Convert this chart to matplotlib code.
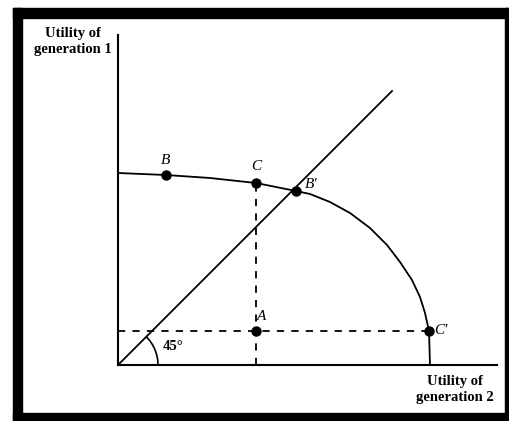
import matplotlib
matplotlib.use("Agg")
import matplotlib.pyplot as plt
from matplotlib.patches import Arc, Rectangle

# utility possibility frontier (gen 2 on x, gen 1 on y)
frontier_x = [0, 48, 92, 138, 178, 192, 212, 232, 252, 269, 282, 294, 302, 307, 311, 312]
frontier_y = [192, 190, 187, 182, 174, 171, 163, 152, 137, 120, 103, 85, 68, 52, 34, 0]

# labelled points
point_names = ["B", "C", "B′", "A", "C′"]
point_x = [48, 138, 178, 138, 311]
point_y = [190, 182, 174, 34, 34]

axis_x_end = 379
axis_y_end = 330
diag_end = 274

serif = "Liberation Serif"

fig = plt.figure(figsize=(5.10, 4.21), dpi=100)
ax = fig.add_axes([0, 0, 1, 1])
ax.set_xlim(-118, 392)
ax.set_ylim(-56, 365)
ax.axis("off")

# axes
ax.plot([0, 0], [0, axis_y_end], color="black", lw=1.5)
ax.plot([0, axis_x_end], [0, 0], color="black", lw=1.5)

# 45 degree line
ax.plot([0, diag_end], [0, diag_end], color="black", lw=1.3)

# frontier
ax.plot(frontier_x, frontier_y, color="black", lw=1.3)

# dashed guides
cx, cy = point_x[1], point_y[1]
ax.plot([cx, cx], [0, cy], color="black", lw=1.3, ls=(0, (4, 4)))
ax.plot([0, point_x[4]], [point_y[4], point_y[4]], color="black", lw=1.3, ls=(0, (4, 4)))

# points
ax.plot(point_x, point_y, "o", color="black", ms=6.5)

offsets = {"B": (0, 15), "C": (0, 17), "B′": (15, 7), "A": (6, 15), "C′": (12, 0)}
for name, x, y in zip(point_names, point_x, point_y):
    dx, dy = offsets[name]
    ax.text(x + dx, y + dy, name, fontsize=11, family=serif, style="italic",
            ha="center", va="center")

# angle mark
ax.add_patch(Arc((0, 0), 80, 80, theta1=0, theta2=45, color="black", lw=1.2))
ax.text(55, 19, "45°", fontsize=10.5, family=serif, fontweight="bold",
        ha="center", va="center")

# axis titles
ax.text(-45, 323, "Utility of\ngeneration 1", fontsize=10.5, family=serif,
        fontweight="bold", ha="center", va="center", linespacing=1.3)
ax.text(337, -24, "Utility of\ngeneration 2", fontsize=10.5, family=serif,
        fontweight="bold", ha="center", va="center", linespacing=1.3)

# scanned black frame
for x0, y0, w, h in [(13, 8, 497, 10), (13, 8, 9, 413), (13, 413, 497, 8), (505, 8, 5, 413)]:
    fig.patches.append(Rectangle((x0 / 510, 1 - (y0 + h) / 421), w / 510, h / 421,
                                 transform=fig.transFigure, color="black", zorder=5))

fig.savefig("out.png", dpi=100)
